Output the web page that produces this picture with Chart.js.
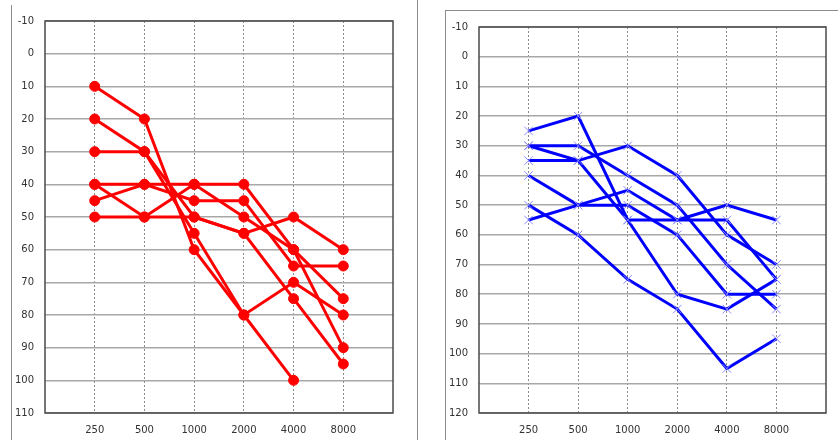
<!DOCTYPE html>
<html>
<head>
<meta charset="utf-8">
<script src="https://cdn.jsdelivr.net/npm/chart.js@4/dist/chart.umd.min.js"></script>
<style>
  html, body { margin: 0; padding: 0; background: #ffffff; }
  body { width: 838px; height: 440px; position: relative; overflow: hidden; }
  .wrap { position: absolute; top: 0; width: 418px; height: 440px; }
  .line { position: absolute; background: #8c8c8c; }
</style>
</head>
<body>
<div class="line" style="left:11px; top:5px; width:1px; height:435px;"></div>
<div class="line" style="left:417px; top:0px; width:1px; height:440px;"></div>
<div class="line" style="left:445px; top:10px; width:393px; height:1px;"></div>
<div class="line" style="left:445px; top:10px; width:1px; height:430px;"></div>
<div class="wrap" style="left:0px;"><canvas id="left" width="418" height="440"></canvas></div>
<div class="wrap" style="left:420px;"><canvas id="right" width="418" height="440"></canvas></div>
<script>
// Frequencies (Hz)
const frequencies = ['250', '500', '1000', '2000', '4000', '8000'];

// Left chart (red, circles) - hearing levels (dB)
const redA = [10, 20, 60, 80, 100, null];
const redB = [20, 30, 55, 80, 70, 80];
const redC = [30, 30, 50, 55, 75, 95];
const redD = [40, 50, 40, 50, 60, 75];
const redE = [45, 40, 45, 45, 65, 65];
const redF = [40, 40, 40, 40, 60, 90];
const redG = [50, 50, 50, 55, 50, 60];

// Right chart (blue, crosses) - hearing levels (dB)
const blueA = [25, 20, 55, 80, 85, 75];
const blueB = [30, 30, 40, 50, 70, 85];
const blueC = [30, 35, 55, 55, 55, 75];
const blueD = [35, 35, 30, 40, 60, 70];
const blueE = [40, 50, 50, 60, 80, 80];
const blueF = [55, 50, 45, 55, 50, 55];
const blueG = [50, 60, 75, 85, 105, 95];

// Y axis ranges
const leftYMin = -10, leftYMax = 110;
const rightYMin = -10, rightYMax = 120;

const toPoints = arr => arr.map((v, i) => ({ x: i + 1, y: v }));

const boxPlugin = {
  id: 'box',
  afterDraw(chart) {
    const { ctx, chartArea: a } = chart;
    ctx.save();
    ctx.strokeStyle = '#4a4a4a';
    ctx.lineWidth = 1.5;
    ctx.strokeRect(a.left, a.top, a.right - a.left, a.bottom - a.top);
    ctx.restore();
  }
};

function makeChart(id, seriesList, color, pointOpts, yMin, yMax, yAxisWidth, padRight, padTop) {
  const datasets = seriesList.map(s => Object.assign({
    data: toPoints(s),
    borderColor: color,
    borderWidth: 3,
    showLine: true,
    spanGaps: false,
    tension: 0
  }, pointOpts));
  return new Chart(document.getElementById(id), {
    type: 'scatter',
    data: { datasets },
    plugins: [boxPlugin],
    options: {
      responsive: false,
      animation: false,
      layout: { padding: { left: 0, right: padRight, top: padTop, bottom: 0 } },
      plugins: { legend: { display: false }, tooltip: { enabled: false } },
      scales: {
        x: {
          type: 'linear',
          min: 0, max: frequencies.length + 1,
          afterFit: s => { s.height = 27; },
          ticks: {
            stepSize: 1, autoSkip: false, maxRotation: 0, padding: 11,
            color: '#333333',
            font: { family: 'DejaVu Sans', size: 10 },
            callback: v => frequencies[v - 1] !== undefined ? frequencies[v - 1] : ''
          },
          grid: {
            drawTicks: false,
            lineWidth: 1,
            color: c => (c.tick && (c.tick.value === 0 || c.tick.value === frequencies.length + 1)) ? 'rgba(0,0,0,0)' : '#8a8a8a'
          },
          border: { display: false, dash: [2, 2] }
        },
        y: {
          type: 'linear',
          reverse: true,
          min: yMin, max: yMax,
          afterFit: s => { s.width = yAxisWidth; },
          ticks: {
            stepSize: 10, padding: 11,
            color: '#333333',
            font: { family: 'DejaVu Sans', size: 10 }
          },
          grid: { drawTicks: false, lineWidth: 1.5, color: '#a8a8a8' },
          border: { display: false }
        }
      }
    }
  });
}

makeChart('left', [redA, redB, redC, redD, redE, redF, redG], '#ff0000',
  { pointStyle: 'circle', pointRadius: 5, pointBackgroundColor: '#ff0000', pointBorderColor: '#ff0000', pointBorderWidth: 1 },
  leftYMin, leftYMax, 45, 25, 21);

makeChart('right', [blueA, blueB, blueC, blueD, blueE, blueF, blueG], '#0000ff',
  { pointStyle: 'crossRot', pointRadius: 6, pointBackgroundColor: '#8080ff', pointBorderColor: '#8a8aff', pointBorderWidth: 1 },
  rightYMin, rightYMax, 59, 12, 27);
</script>
</body>
</html>
